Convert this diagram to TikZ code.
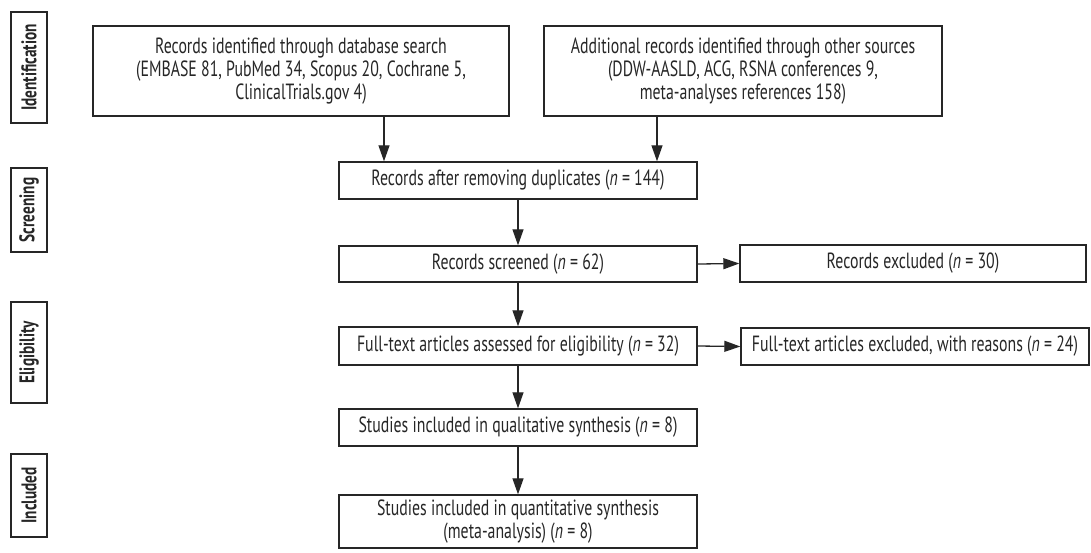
\documentclass[tikz,border=0pt]{standalone}
\usepackage{fontspec}
\setmainfont{PT Sans}[FakeStretch=0.72]
\usetikzlibrary{arrows.meta}
\definecolor{ink}{HTML}{262626}
\tikzset{
  box/.style={draw=ink, line width=0.7pt, text=ink, align=center, inner sep=0pt,
    font=\fontsize{11}{11.6}\selectfont},
  lab/.style={draw=ink, line width=0.7pt, text=ink, inner sep=0pt, rotate=90,
    minimum height=18pt, font=\fontsize{10.6}{11.6}\selectfont\bfseries},
  arr/.style={draw=ink, line width=0.65pt, -{Triangle[length=8pt,width=5.5pt]}},
}
\begin{document}
\begin{tikzpicture}[x=0.5pt,y=-0.5pt]
\path[use as bounding box] (0,0) rectangle (1091,552);
% stage labels
\node[lab, minimum width=55.5pt] (l1) at (29,67.5) {Identification};
\node[lab, minimum width=42pt] (l2) at (29,210) {Screening};
\node[lab, minimum width=50.5pt] (l3) at (29,352.5) {Eligibility};
\node[lab, minimum width=41.5pt] (l4) at (29,495.5) {Included};
% boxes
\node[box, minimum width=208pt, minimum height=45pt] (A) at (301,71)
  {Records identified through database search\\(EMBASE 81, PubMed 34, Scopus 20, Cochrane 5,\\ClinicalTrials.gov 4)};
\node[box, minimum width=199pt, minimum height=45pt] (B) at (743,71)
  {Additional records identified through other sources\\(DDW-AASLD, ACG, RSNA conferences 9,\\meta-analyses references 158)};
\node[box, minimum width=179pt, minimum height=18.5pt] (C) at (518,180.5)
  {Records after removing duplicates (\textit{n} = 144)};
\node[box, minimum width=179pt, minimum height=18pt] (D) at (518,264)
  {Records screened (\textit{n} = 62)};
\node[box, minimum width=173pt, minimum height=18.5pt] (F) at (913,263.5)
  {Records excluded (\textit{n} = 30)};
\node[box, minimum width=179pt, minimum height=19pt] (E) at (518,346)
  {Full-text articles assessed for eligibility (\textit{n} = 32)};
\node[box, minimum width=174pt, minimum height=18.5pt] (G) at (915,346.5)
  {Full-text articles excluded, with reasons (\textit{n} = 24)};
\node[box, minimum width=179pt, minimum height=18.5pt] (H) at (518,427.5)
  {Studies included in qualitative synthesis (\textit{n} = 8)};
\node[box, minimum width=179pt, minimum height=26.5pt] (I) at (518,521.5)
  {Studies included in quantitative synthesis\\(meta-analysis) (\textit{n} = 8)};
% connectors
\coordinate (xa) at (384,0);
\coordinate (xb) at (657,0);
\draw[arr] (xa |- A.south) -- (xa |- C.north);
\draw[arr] (xb |- B.south) -- (xb |- C.north);
\draw[arr] (C.south) -- (D.north);
\draw[arr] (D.east) -- (F.west);
\draw[arr] (D.south) -- (E.north);
\draw[arr] (E.east) -- (G.west);
\draw[arr] (E.south) -- (H.north);
\draw[arr] (H.south) -- (I.north);
\end{tikzpicture}
\end{document}
